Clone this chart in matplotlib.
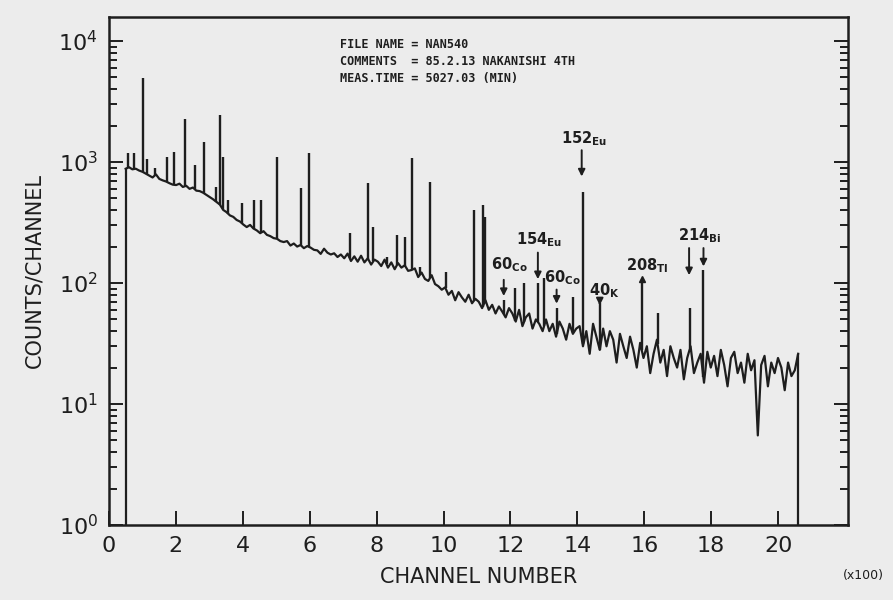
import numpy as np
import matplotlib
matplotlib.use("Agg")
import matplotlib.pyplot as plt

# continuum counts, every 10 channels (x in units of 100 channels)
counts = [
    880, 905, 870, 880, 850,
    830, 800, 770, 745, 790, 725, 705, 690, 668, 650,
    645, 662, 622, 636, 600, 615, 580, 575, 558, 535,
    512, 492, 468, 445, 402, 385, 362, 352, 332, 322,
    304, 290, 302, 282, 272, 258, 268, 250, 244, 235,
    232, 222, 218, 222, 204, 212, 200, 206, 194, 202,
    196, 188, 186, 174, 192, 178, 172, 176, 164, 172,
    160, 175, 152, 166, 150, 168, 148, 160, 142, 156,
    150, 138, 156, 134, 148, 130, 146, 134, 140, 126,
    128, 132, 112, 122, 108, 104, 116, 98, 94, 88,
    92, 80, 86, 72, 84, 76, 70, 80, 68, 74,
    70, 62, 72, 60, 66, 56, 64, 58, 52, 62,
    56, 48, 60, 44, 52, 56, 42, 50, 46, 40,
    50, 40, 46, 36, 48, 42, 34, 46, 38, 42,
    44, 30, 40, 26, 46, 36, 28, 42, 30, 40,
    34, 22, 38, 30, 24, 36, 28, 20, 32, 24,
    30, 18, 26, 34, 22, 28, 17, 30, 24, 20,
    28, 16, 24, 30, 18, 22, 26, 15, 27, 20,
    25, 17, 28, 21, 14, 24, 27, 18, 22, 15,
    26, 19, 23, 5.5, 21, 25, 14, 22, 18, 24,
    20, 13, 22, 17, 19, 26,
]
chan_first, chan_last = 0.5, 20.6

# photopeaks: position (x100 channels) and top counts
peak_pos = [0.57, 0.75, 1.02, 1.14, 1.38, 1.74, 1.95, 2.28, 2.57, 2.84,
            3.20, 3.32, 3.40, 3.56, 3.98, 4.34, 4.55, 5.03, 5.75, 5.99,
            7.20, 7.73, 7.90, 8.30, 8.60, 8.86, 9.07, 9.30, 9.60, 10.06,
            10.90, 11.17, 11.23, 11.80, 12.15, 12.40, 12.82, 13.00, 13.38, 13.86,
            14.16, 14.67, 15.93, 16.40, 17.37, 17.77]
peak_top = [1180, 1180, 4900, 1050, 890, 1100, 1200, 2270, 950, 1470,
            620, 2450, 1100, 485, 460, 485, 485, 1100, 610, 1190,
            260, 670, 290, 165, 250, 240, 1075, 135, 680, 123,
            400, 440, 350, 72, 91, 100, 100, 110, 62, 76,
            565, 68, 100, 56, 62, 128]

# nuclide labels: mass number, element, label x, label y
nuc_mass = ["152", "154", "60", "60", "40", "208", "214"]
nuc_elem = ["Eu", "Eu", "Co", "Co", "K", "Tl", "Bi"]
nuc_x = [13.50, 12.16, 11.41, 13.00, 14.34, 15.45, 17.00]
nuc_y = [1300, 190, 118, 92, 72, 116, 208]

# arrows: x, from, to
arr_x = [14.13, 12.82, 11.80, 13.38, 14.67, 17.34, 17.77]
arr_from = [1320, 188, 112, 93, 74, 205, 205]
arr_to = [720, 102, 74, 64, 62, 110, 130]

header = ["FILE NAME = NAN540",
          "COMMENTS  = 85.2.13 NAKANISHI 4TH",
          "MEAS.TIME = 5027.03 (MIN)"]

ink = "#1e1e1e"
paper = "#ececec"

fig = plt.figure(figsize=(8.93, 6.0), dpi=100, facecolor=paper)
ax = fig.add_axes([0.122, 0.125, 0.828, 0.847], facecolor=paper)

chan = np.linspace(chan_first, chan_last, len(counts))
ax.plot(chan, counts, color=ink, lw=1.6)
ax.vlines([chan[0], chan[-1]], 1, [counts[0], counts[-1]], color=ink, lw=1.6)
base = np.interp(peak_pos, chan, counts)
ax.vlines(peak_pos, base, peak_top, color=ink, lw=1.7)

for m, e, x, y in zip(nuc_mass, nuc_elem, nuc_x, nuc_y):
    ax.text(x, y, r"$\mathregular{" + m + "_{" + e + "}}$", fontsize=10.5,
            color=ink, ha="left", va="bottom", fontweight="semibold")
for x, y0, y1 in zip(arr_x, arr_from, arr_to):
    ax.annotate("", xy=(x, y1), xytext=(x, y0),
                arrowprops=dict(arrowstyle="-|>", color=ink, lw=1.4,
                                mutation_scale=10))
# 208Tl peak has an arrowhead on its top
ax.plot([15.93], [108], marker="^", color=ink, ms=5)

for i, line in enumerate(header):
    ax.text(0.313, 0.945 - i * 0.033, line, transform=ax.transAxes,
            family="DejaVu Sans Mono", fontweight="bold", fontsize=8.5,
            color=ink, va="center", ha="left")

ax.set_yscale("log")
ax.set_xlim(0, 22.1)
ax.set_ylim(1, 10 ** 4.2)
ax.set_xticks(range(0, 21, 2))
ax.set_yticks([1, 10, 100, 1000, 10000])
ax.tick_params(which="both", direction="in", right=True, colors=ink,
               labelsize=16, width=1.4, pad=8)
ax.tick_params(which="major", length=10)
ax.tick_params(which="minor", length=6)
for s in ax.spines.values():
    s.set_linewidth(1.8)
    s.set_color(ink)

ax.set_xlabel("CHANNEL NUMBER", fontsize=15, color=ink, labelpad=8)
ax.set_ylabel("COUNTS/CHANNEL", fontsize=15, color=ink, labelpad=10)
fig.text(0.99, 0.035, "(x100)", fontsize=9, color=ink, ha="right")

fig.savefig("out.png", dpi=100, facecolor=paper)
